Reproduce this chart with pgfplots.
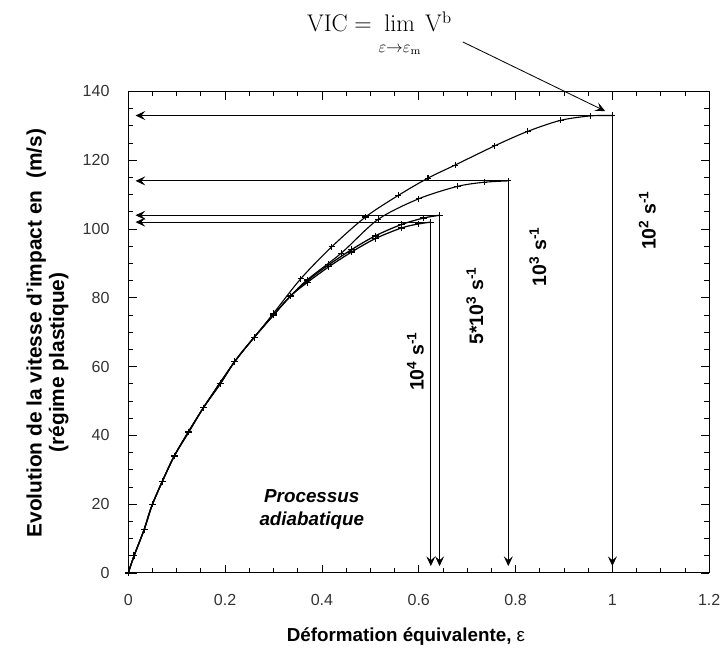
\documentclass[border=0pt]{standalone}
\usepackage[no-math]{fontspec}
\setmainfont{Liberation Sans}
\usepackage{pgfplots}
\pgfplotsset{compat=1.18}
\usetikzlibrary{arrows.meta}

\begin{document}
\begin{tikzpicture}[>={Stealth[length=7pt,width=6.5pt,inset=2.8pt]}]
\begin{axis}[
  scale only axis,
  width=417pt, height=345.6pt,
  xmin=0, xmax=1.2, ymin=0, ymax=140,
  xtick={0,0.2,0.4,0.6,0.8,1,1.2},
  ytick={0,20,40,60,80,100,120,140},
  minor x tick num=3, minor y tick num=3,
  tick align=inside,
  major tick length=6pt, minor tick length=3.5pt,
  axis line style={line width=0.8pt},
  tick style={line width=0.6pt, black},
  /pgf/number format/assume math mode=true,
  ticklabel style={font=\fontsize{11.5}{12}\selectfont, color=black!80},
  xticklabel style={yshift=-12pt},
  yticklabel style={xshift=-10pt},
  xlabel={Déformation équivalente,\ \mdseries ε},
  xlabel style={at={(axis description cs:0.478,-0.132)}, anchor=center,
    font=\bfseries\fontsize{13.5}{15}\selectfont},
  ylabel={Evolution de la vitesse d'impact en\ \ (m/s)\\(régime plastique)\hspace*{42pt}},
  ylabel style={at={(axis description cs:-0.139,0.498)}, anchor=center,
    align=center, font=\bfseries\fontsize{15}{16}\selectfont},
  clip=false,
]
% keep the page the size of the reference
\path (axis cs:-0.265,-21.4) rectangle (axis cs:1.226,166.6);

% 10^4 s^-1
\addplot[black, line width=0.9pt, smooth, mark=+, mark size=2.4pt] coordinates {
(0,0) (0.012,5) (0.033,12.7) (0.05,20) (0.07,26.5) (0.095,34) (0.125,41)
(0.155,48) (0.19,55) (0.22,61.5) (0.26,68.5) (0.3,75) (0.335,80.5)
(0.37,84.5) (0.414,89) (0.461,93.3) (0.51,97.2) (0.564,100.3) (0.6,101.5) (0.625,102)};
% 5*10^3 s^-1
\addplot[black, line width=0.9pt, smooth, mark=+, mark size=2.4pt] coordinates {
(0,0) (0.012,5) (0.033,12.7) (0.05,20) (0.07,26.5) (0.095,34) (0.125,41)
(0.155,48) (0.19,55) (0.22,61.5) (0.26,68.5) (0.3,75) (0.335,80.5)
(0.37,85) (0.414,89.6) (0.461,94) (0.51,98) (0.564,101.3) (0.61,103.2) (0.643,104)};
% 10^3 s^-1
\addplot[black, line width=0.8pt, smooth, mark=+, mark size=2.2pt] coordinates {
(0,0) (0.012,5) (0.033,12.7) (0.05,20) (0.095,34) (0.155,48) (0.22,61.5)
(0.26,68.5) (0.3,75) (0.335,80.5)
(0.37,85.3) (0.44,93) (0.516,102.8) (0.6,108.8) (0.68,112.4) (0.735,113.6) (0.785,114)};
% 10^2 s^-1
\addplot[black, line width=0.8pt, smooth, mark=+, mark size=2.2pt] coordinates {
(0,0) (0.012,5) (0.033,12.7) (0.05,20) (0.095,34) (0.155,48) (0.22,61.5)
(0.26,68.5) (0.3,75.5) (0.356,85.5) (0.42,94.8) (0.49,103.5) (0.558,109.8)
(0.619,114.8) (0.675,118.6) (0.757,124.2) (0.825,128.4) (0.893,131.6)
(0.955,132.9) (1.0,133)};

% arrows to the axes
\addplot[black, line width=0.6pt, <->] coordinates {(0.015,133) (1.0,133) (1.0,2)};
\addplot[black, line width=0.6pt, <->] coordinates {(0.015,114) (0.785,114) (0.785,2)};
\addplot[black, line width=0.6pt, <->] coordinates {(0.015,104) (0.643,104) (0.643,2)};
\addplot[black, line width=0.6pt, <->] coordinates {(0.015,102) (0.625,102) (0.625,2)};

% limit annotation
\node[anchor=base, font=\fontsize{17}{20}\selectfont] at (axis cs:0.519,157.3)
  {$\mathrm{VIC} = \lim\limits_{\vphantom{\big|}\varepsilon\to\varepsilon_{\mathrm{m}}} \mathrm{V}^{\mathrm{b}}$};
\addplot[black, line width=0.6pt, ->] coordinates {(0.691,154.4) (0.985,134.3)};

% strain rate labels
\node[rotate=90, font=\bfseries\fontsize{14}{15}\selectfont] at (axis cs:1.072,102.5)
  {10\textsuperscript{2} s\textsuperscript{-1}};
\node[rotate=90, font=\bfseries\fontsize{14}{15}\selectfont] at (axis cs:0.846,92)
  {10\textsuperscript{3} s\textsuperscript{-1}};
\node[rotate=90, font=\bfseries\fontsize{14}{15}\selectfont] at (axis cs:0.716,77.7)
  {5*10\textsuperscript{3} s\textsuperscript{-1}};
\node[rotate=90, font=\bfseries\fontsize{14}{15}\selectfont] at (axis cs:0.593,61.5)
  {10\textsuperscript{4} s\textsuperscript{-1}};

\node[align=center, font=\bfseries\itshape\fontsize{13.5}{16.4}\selectfont]
  at (axis cs:0.379,18.5) {Processus\\adiabatique};
\end{axis}
\end{tikzpicture}
\end{document}
